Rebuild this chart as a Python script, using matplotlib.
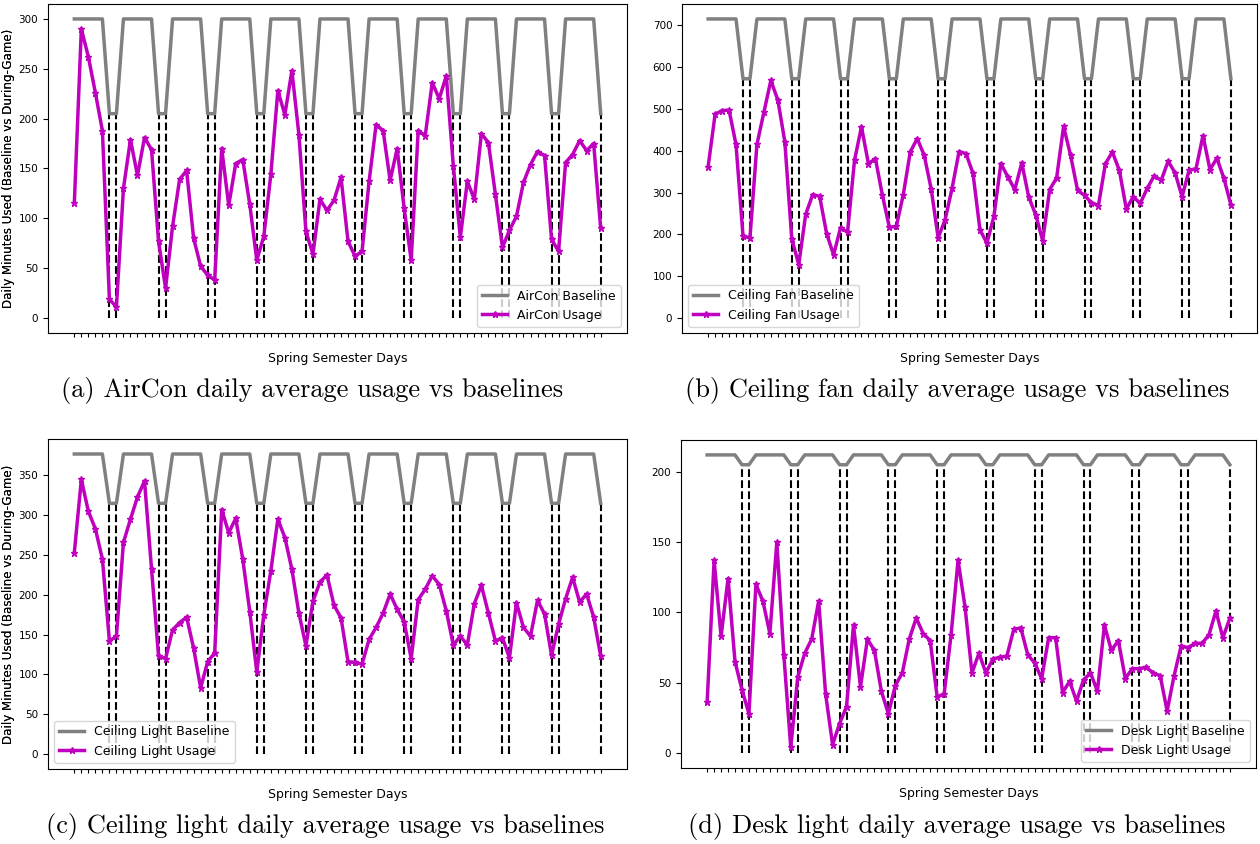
import numpy as np
import matplotlib
matplotlib.use('Agg')
import matplotlib.pyplot as plt

# ── data (76 spring semester days, weekends at 5,6, 12,13, ...) ───────
n_days = 76
days = np.arange(n_days)
weekend = days % 7 >= 5

aircon_usage = [115, 290, 262, 226, 188, 19, 11, 130, 179, 143, 181, 169,
                77, 30, 92, 139, 148, 80, 52, 43, 38, 170, 113, 155, 159,
                114, 58, 82, 144, 228, 204, 248, 184, 87, 64, 119, 108, 118,
                141, 77, 62, 67, 137, 194, 188, 138, 170, 110, 58, 188, 183,
                236, 220, 243, 153, 81, 137, 119, 185, 176, 124, 71, 88, 102,
                136, 154, 167, 163, 79, 67, 156, 164, 178, 168, 175, 90]

fan_usage = [362, 487, 496, 497, 415, 197, 191, 415, 492, 568, 521, 422,
             189, 128, 248, 295, 291, 202, 151, 216, 205, 377, 457, 369,
             381, 294, 217, 219, 295, 397, 429, 389, 309, 192, 235, 310,
             398, 393, 346, 211, 179, 243, 369, 338, 307, 371, 289, 247,
             185, 307, 335, 458, 389, 306, 293, 276, 269, 369, 397, 353,
             261, 290, 274, 310, 340, 329, 375, 347, 290, 353, 357, 436,
             355, 382, 334, 271]

ceiling_light_usage = [253, 345, 305, 283, 245, 142, 148, 266, 295, 323, 343,
                       233, 123, 120, 156, 165, 172, 133, 83, 116, 127, 307,
                       278, 296, 245, 179, 103, 175, 230, 295, 272, 232, 177,
                       136, 192, 216, 225, 187, 171, 116, 115, 113, 144, 159,
                       177, 201, 182, 166, 120, 194, 207, 224, 213, 180, 137,
                       148, 137, 189, 212, 177, 142, 146, 121, 190, 159, 148,
                       193, 176, 124, 163, 195, 222, 191, 201, 172, 123]

desk_light_usage = [36, 137, 83, 124, 65, 45, 28, 120, 108, 85, 150, 70, 4,
                    54, 71, 81, 108, 42, 6, 21, 33, 91, 47, 81, 73, 44, 28,
                    48, 57, 81, 96, 85, 80, 40, 42, 84, 137, 104, 57, 71, 57,
                    67, 68, 69, 88, 89, 70, 64, 53, 82, 82, 43, 51, 37, 52,
                    57, 44, 91, 73, 80, 53, 60, 60, 61, 57, 55, 30, 55, 76,
                    75, 78, 78, 84, 101, 82, 96]

# weekday / weekend baseline levels
baseline_levels = {
    'AirCon': (300, 205),
    'Ceiling Fan': (715, 572),
    'Ceiling Light': (377, 315),
    'Desk Light': (212, 205),
}

panels = [
    ('AirCon', aircon_usage, 'lower right',
     '(a) AirCon daily average usage vs baselines'),
    ('Ceiling Fan', fan_usage, 'lower left',
     '(b) Ceiling fan daily average usage vs baselines'),
    ('Ceiling Light', ceiling_light_usage, 'lower left',
     '(c) Ceiling light daily average usage vs baselines'),
    ('Desk Light', desk_light_usage, 'lower right',
     '(d) Desk light daily average usage vs baselines'),
]

W, H = 1260, 844
fig = plt.figure(figsize=(W / 100, H / 100), dpi=100)

# axes boxes in pixels: left, top, right, bottom
boxes = [(48, 4, 627, 333), (682, 4, 1257, 333),
         (48, 439, 627, 769), (681, 440, 1256, 768)]
caption_pos = [(312, 391), (957, 391), (325, 827), (957, 827)]

for (name, usage, loc, caption), (l, t, r, b), (cx, cy) in zip(panels, boxes, caption_pos):
    ax = fig.add_axes([l / W, 1 - b / H, (r - l) / W, (b - t) / H])
    hi, lo = baseline_levels[name]
    baseline = np.where(weekend, lo, hi)

    ax.vlines(days[weekend], 0, lo, colors='k', linestyles='--', lw=1.5, zorder=1)
    ax.plot(days, baseline, color='grey', lw=2.5, label=f'{name} Baseline', zorder=2)
    ax.plot(days, usage, color='m', lw=2.5, marker='*', markersize=5,
            label=f'{name} Usage', zorder=3)

    ax.set_xticks(days)
    ax.set_xticklabels([])
    ax.tick_params(axis='x', length=3, width=0.8)
    ax.tick_params(axis='y', labelsize=7.5)
    ax.set_xlabel('Spring Semester Days', fontsize=9, labelpad=7)
    ax.set_ylabel('Daily Minutes Used (Baseline vs During-Game)', fontsize=8.6)
    ax.yaxis.set_label_coords(-(l - 15) / (r - l), 0.5)
    ax.legend(loc=loc, fontsize=9)

    fig.text(cx / W, 1 - cy / H, caption, ha='center', va='center',
             fontsize=19, family='cmr10')

plt.savefig('out.png', dpi=100)
